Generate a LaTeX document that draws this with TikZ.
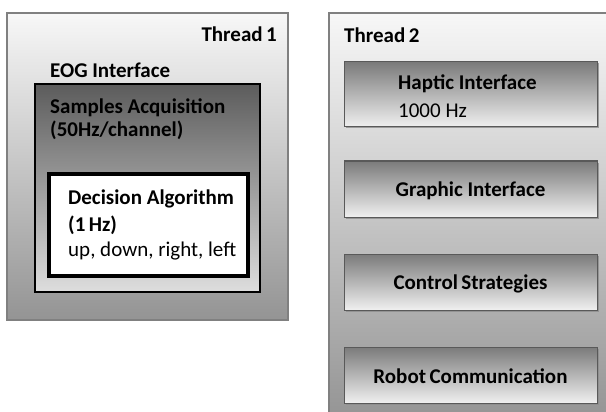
\documentclass[tikz,border=0pt]{standalone}
\usepackage{fontspec}
\setmainfont{Carlito}
\usetikzlibrary{shadows}
\begin{document}
\begin{tikzpicture}[x=1pt,y=-1pt,
  font=\fontsize{21}{25}\selectfont,
  threadbox/.style={draw=black!50, line width=1.2pt, top color=black!3, middle color=black!14, bottom color=black!42},
  modbox/.style={draw=black!65, line width=1pt, top color=black!52, bottom color=black!6,
    drop shadow={shadow xshift=1.5pt, shadow yshift=-1.5pt, fill=black!45, opacity=0.8}},
  acqbox/.style={draw=black, line width=1.2pt, top color=black!64, bottom color=black!13},
  decbox/.style={draw=black, line width=4pt, fill=white},
  lbl/.style={inner sep=0pt, font=\fontsize{21}{25}\selectfont\bfseries},
  txt/.style={inner sep=0pt},
]
\useasboundingbox (0,0) rectangle (606,412);

% Thread 1
\draw[threadbox] (7,13) rectangle (288,320);
\node[lbl, anchor=east] (t1) at (277,34) {Thread\,1};
\node[lbl, anchor=west] (eog) at (50,70) {EOG Interface};
\draw[acqbox] (35,84) rectangle (260,292);
\node[lbl, anchor=west] (acq1) at (50,108) {Samples Acquisition};
\node[lbl, anchor=west] (acq2) at (50,130) {(50Hz/channel)};
\draw[decbox] (49,174) rectangle (248,276);
\node[lbl, anchor=west] (dec1) at (68,199) {Decision Algorithm};
\node[lbl, anchor=west] (dec2) at (68,225) {(1\,Hz)};
\node[txt, anchor=west] (dec3) at (68,251) {up, down, right, left};

% Thread 2
\draw[threadbox] (329,13) rectangle (612,420);
\node[lbl, anchor=west] (t2) at (344,35) {Thread\,2};
\draw[modbox] (344,62) rectangle (597,127);
\node[lbl, anchor=west] (hap1) at (398,84) {Haptic Interface};
\node[txt, anchor=west] (hap2) at (398,111) {1000 Hz};
\draw[modbox] (344,161) rectangle (597,217);
\node[lbl] (gra) at (470.5,191) {Graphic Interface};
\draw[modbox] (344,254) rectangle (597,310);
\node[lbl] (ctl) at (470.5,284) {Control\,Strategies};
\draw[modbox] (344,347) rectangle (597,403);
\node[lbl] (rob) at (470.5,376) {Robot\,Communication};
\end{tikzpicture}
\end{document}
